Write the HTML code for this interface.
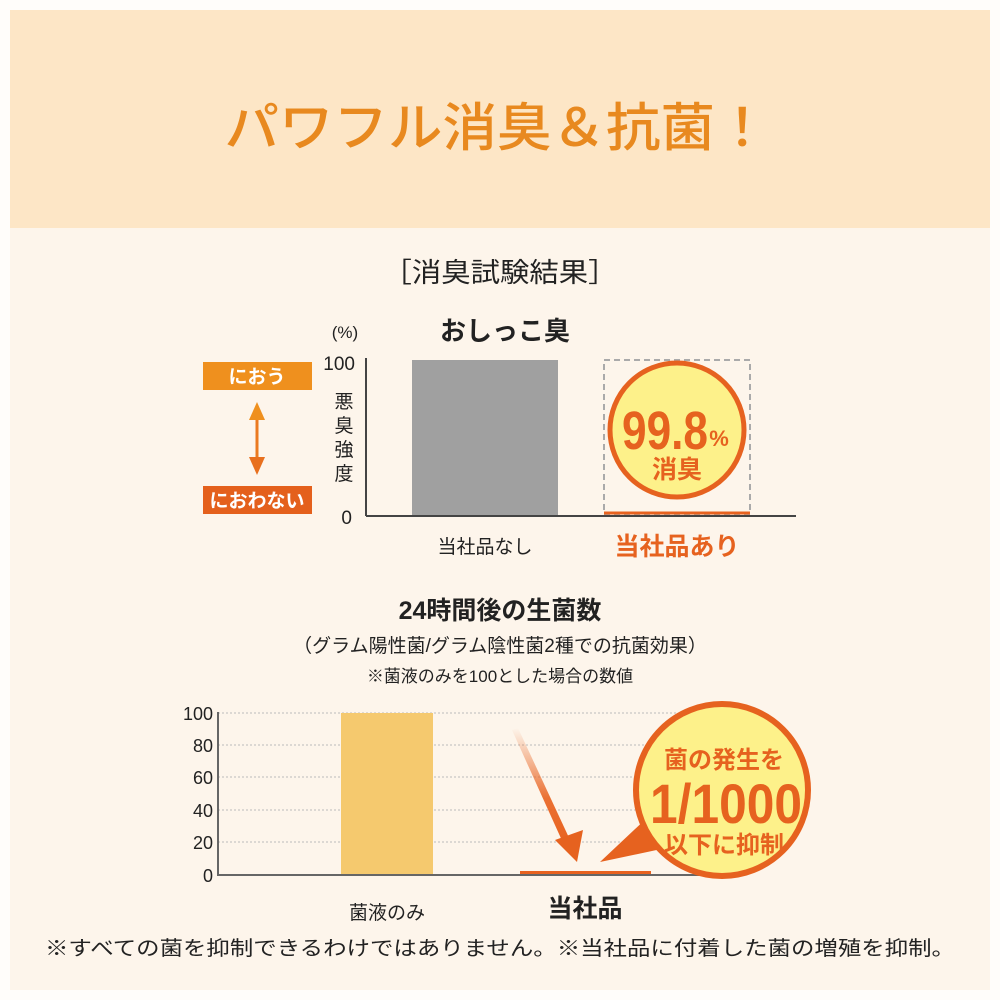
<!DOCTYPE html>
<html><head><meta charset="utf-8"><style>
html,body{margin:0;padding:0;background:#fff;}
svg{display:block;font-family:"Liberation Sans","Noto Sans CJK JP",sans-serif;}
</style></head><body>
<svg width="1000" height="1000" viewBox="0 0 1000 1000" xmlns="http://www.w3.org/2000/svg">
<defs>
<linearGradient id="ag" x1="0" y1="0" x2="0" y2="1">
<stop offset="0" stop-color="#e8621f" stop-opacity="0"/>
<stop offset="0.6" stop-color="#e8621f" stop-opacity="0.9"/>
<stop offset="1" stop-color="#e8621f"/>
</linearGradient>
</defs>
<rect x="0" y="0" width="1000" height="1000" fill="#fffdfa"/>
<rect x="10" y="10" width="980" height="218" fill="#fde6c6"/>
<rect x="10" y="228" width="980" height="762" fill="#fdf5eb"/>
<text x="497" y="146" text-anchor="middle" font-size="52" fill="#e8891f" font-weight="500" textLength="545" lengthAdjust="spacingAndGlyphs">パワフル消臭＆抗菌！</text>
<text x="500" y="282" text-anchor="middle" font-size="27" fill="#222" textLength="235" lengthAdjust="spacingAndGlyphs">［消臭試験結果］</text>

<!-- chart 1 -->
<text x="345" y="338" text-anchor="middle" font-size="17" fill="#222">(%)</text>
<text x="505" y="340" text-anchor="middle" font-size="26" font-weight="bold" fill="#222">おしっこ臭</text>
<text x="355" y="370" text-anchor="end" font-size="19" fill="#222">100</text>
<text x="352" y="524" text-anchor="end" font-size="19" fill="#222">0</text>
<g font-size="19" fill="#222" text-anchor="middle">
<text x="344" y="408">悪</text><text x="344" y="432">臭</text><text x="344" y="456">強</text><text x="344" y="480">度</text>
</g>
<line x1="366" y1="358" x2="366" y2="516" stroke="#444" stroke-width="2"/>
<line x1="366" y1="516" x2="796" y2="516" stroke="#444" stroke-width="2"/>
<rect x="412" y="360" width="146" height="155" fill="#a0a0a0"/>
<rect x="604" y="360" width="146" height="154" fill="none" stroke="#aaa" stroke-width="2" stroke-dasharray="6,4"/>
<line x1="604" y1="513" x2="750" y2="513" stroke="#e8621f" stroke-width="3"/>
<circle cx="677" cy="430" r="67" fill="#fdf18a" stroke="#e6621f" stroke-width="5"/>
<text x="665" y="449" text-anchor="middle" font-size="54" font-weight="bold" fill="#e6621f" textLength="86" lengthAdjust="spacingAndGlyphs">99.8</text>
<text x="719" y="446" text-anchor="middle" font-size="22" font-weight="bold" fill="#e6621f">%</text>
<text x="677" y="478" text-anchor="middle" font-size="25" font-weight="bold" fill="#e6621f">消臭</text>
<rect x="203" y="362" width="109" height="28" fill="#ef901e"/>
<text x="257" y="383" text-anchor="middle" font-size="19" font-weight="bold" fill="#fff">におう</text>
<rect x="203" y="486" width="109" height="28" fill="#e4601c"/>
<text x="257" y="507" text-anchor="middle" font-size="19" font-weight="bold" fill="#fff">におわない</text>
<line x1="257" y1="415" x2="257" y2="462" stroke="#eb7a20" stroke-width="3"/>
<polygon points="257,402 249,420 265,420" fill="#ef901e"/>
<polygon points="257,475 249,457 265,457" fill="#e8701e"/>
<text x="485" y="553" text-anchor="middle" font-size="19" fill="#222">当社品なし</text>
<text x="677" y="555" text-anchor="middle" font-size="25" font-weight="bold" fill="#e6621f">当社品あり</text>

<!-- chart 2 -->
<text x="500" y="619" text-anchor="middle" font-size="25" font-weight="bold" fill="#222">24時間後の生菌数</text>
<text x="500" y="652" text-anchor="middle" font-size="19" fill="#222">（グラム陽性菌/グラム陰性菌2種での抗菌効果）</text>
<text x="500" y="682" text-anchor="middle" font-size="17" fill="#222">※菌液のみを100とした場合の数値</text>
<g stroke="#bbb" stroke-width="1" stroke-dasharray="2,2">
<line x1="218" y1="713" x2="700" y2="713"/><line x1="218" y1="745" x2="700" y2="745"/>
<line x1="218" y1="777" x2="700" y2="777"/><line x1="218" y1="810" x2="700" y2="810"/>
<line x1="218" y1="842" x2="700" y2="842"/>
</g>
<g font-size="18" fill="#222" text-anchor="end">
<text x="213" y="720">100</text><text x="213" y="752">80</text><text x="213" y="784">60</text>
<text x="213" y="817">40</text><text x="213" y="849">20</text><text x="213" y="882">0</text>
</g>
<line x1="218" y1="712" x2="218" y2="876" stroke="#666" stroke-width="2"/>
<line x1="218" y1="875" x2="700" y2="875" stroke="#666" stroke-width="2"/>
<rect x="341" y="713" width="92" height="161" fill="#f5c96e"/>
<rect x="520" y="871" width="131" height="3" fill="#e8621f"/>
<polygon points="512,730 518,728 571,842 564,845" fill="url(#ag)"/>
<polygon points="555,840 583,830 577,862" fill="#e6621f"/>
<polygon points="600,862 650,815 680,845" fill="#e6621f"/>
<circle cx="722" cy="790" r="86" fill="#fdf18a" stroke="#e6621f" stroke-width="6"/>
<text x="724" y="768" text-anchor="middle" font-size="24" font-weight="bold" fill="#e6621f">菌の発生を</text>
<text x="726" y="823" text-anchor="middle" font-size="56" font-weight="bold" fill="#e6621f" textLength="152" lengthAdjust="spacingAndGlyphs">1/1000</text>
<text x="724" y="853" text-anchor="middle" font-size="24" font-weight="bold" fill="#e6621f">以下に抑制</text>
<text x="387" y="919" text-anchor="middle" font-size="19" fill="#222">菌液のみ</text>
<text x="585" y="917" text-anchor="middle" font-size="25" font-weight="bold" fill="#222">当社品</text>
<text x="500" y="955" text-anchor="middle" font-size="20" fill="#222" textLength="910" lengthAdjust="spacingAndGlyphs">※すべての菌を抑制できるわけではありません。※当社品に付着した菌の増殖を抑制。</text>
</svg>
</body></html>
